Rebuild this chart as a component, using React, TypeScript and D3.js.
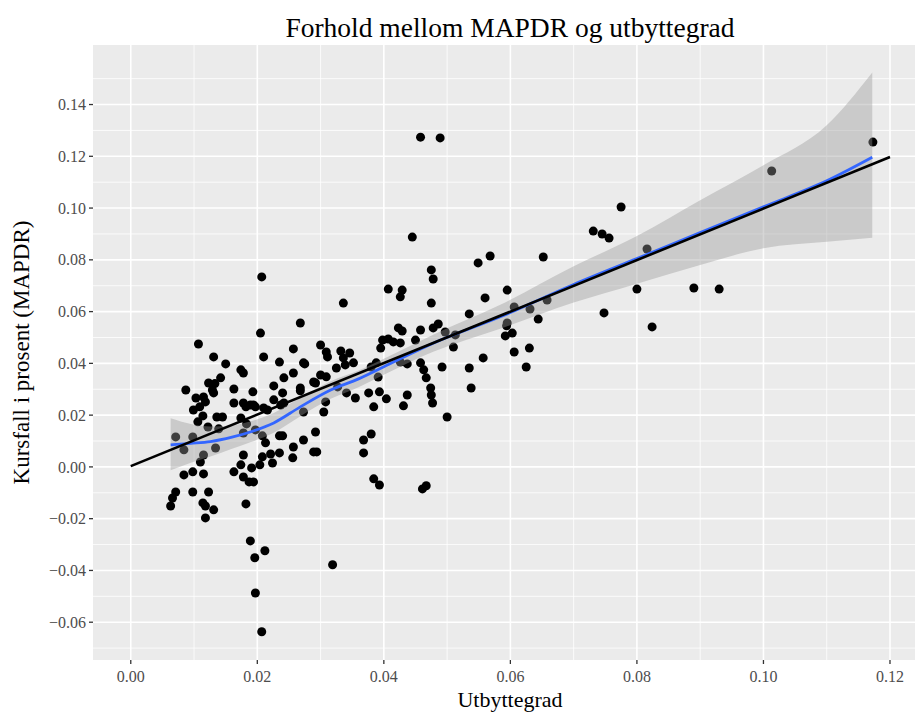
import React from "react";
import * as d3 from "d3";

const pointX = [
  0.0063, 0.0066, 0.0071, 0.0071, 0.0084, 0.0098, 0.0084, 0.0098, 0.0115, 0.0115,
  0.0110, 0.0087, 0.0107, 0.0131, 0.0150, 0.0142, 0.0123, 0.0133, 0.0129, 0.0131,
  0.0103, 0.0115, 0.0118, 0.0099, 0.0109, 0.0114, 0.0106, 0.0136, 0.0145, 0.0122,
  0.0139, 0.0163, 0.0163, 0.0182, 0.0189, 0.0197, 0.0193, 0.0174, 0.0178, 0.0134,
  0.0098, 0.0123, 0.0114, 0.0118, 0.0131, 0.0118, 0.0182, 0.0178, 0.0174, 0.0163,
  0.0178, 0.0187, 0.0194, 0.0191, 0.0204, 0.0174, 0.0183, 0.0178, 0.0197, 0.0208,
  0.0213, 0.0235, 0.0240, 0.0273, 0.0257, 0.0292, 0.0294, 0.0235, 0.0221, 0.0208,
  0.0224, 0.0256, 0.0189, 0.0212, 0.0196, 0.0319, 0.0197, 0.0207, 0.0207, 0.0205,
  0.0300, 0.0257, 0.0309, 0.0311, 0.0210, 0.0235, 0.0273, 0.0257, 0.0242, 0.0300,
  0.0309, 0.0226, 0.0240, 0.0268, 0.0292, 0.0178, 0.0194, 0.0210, 0.0226, 0.0237,
  0.0242, 0.0216, 0.0308, 0.0305, 0.0273, 0.0268, 0.0275, 0.0289, 0.0268, 0.0289,
  0.0325, 0.0332, 0.0346, 0.0336, 0.0339, 0.0352, 0.0355, 0.0341, 0.0327, 0.0336,
  0.0376, 0.0393, 0.0404, 0.0384, 0.0368, 0.0380, 0.0368, 0.0384, 0.0393, 0.0391,
  0.0380, 0.0388, 0.0395, 0.0398, 0.0407, 0.0415, 0.0426, 0.0423, 0.0429, 0.0437,
  0.0431, 0.0426, 0.0437, 0.0458, 0.0463, 0.0467, 0.0474, 0.0475, 0.0477, 0.0458,
  0.0478, 0.0486, 0.0497, 0.0450, 0.0510, 0.0513, 0.0492, 0.0500, 0.0461, 0.0467,
  0.0458, 0.0489, 0.0445, 0.0549, 0.0568, 0.0475, 0.0478, 0.0407, 0.0429, 0.0426,
  0.0475, 0.0595, 0.0560, 0.0535, 0.0557, 0.0535, 0.0538, 0.0652, 0.0606, 0.0631,
  0.0658, 0.0644, 0.0595, 0.0594, 0.0592, 0.0603, 0.0606, 0.0630, 0.0625, 0.0731,
  0.0745, 0.0756, 0.0775, 0.0816, 0.0800, 0.0890, 0.0930, 0.0748, 0.0824, 0.1013,
  0.1173,
];

const pointY = [
  -0.0151, -0.0120, -0.0097, 0.0116, 0.0066, 0.0116, -0.0031, -0.0019, -0.0027, 0.0046,
  0.0019, 0.0297, 0.0475, 0.0425, 0.0398, 0.0344, 0.0324, 0.0322, 0.0297, 0.0286,
  0.0266, 0.0270, 0.0251, 0.0220, 0.0232, 0.0197, 0.0174, 0.0193, 0.0193, 0.0154,
  0.0147, 0.0301, 0.0247, 0.0232, 0.0239, 0.0232, 0.0290, 0.0375, 0.0363, 0.0073,
  -0.0097, -0.0097, -0.0139, -0.0151, -0.0166, -0.0197, -0.0143, 0.0046, 0.0008, -0.0019,
  -0.0039, -0.0058, -0.0058, -0.0004, 0.0008, 0.0189, 0.0166, 0.0131, 0.0143, 0.0120,
  0.0093, 0.0120, 0.0120, 0.0104, 0.0077, 0.0135, 0.0058, 0.0054, 0.0050, 0.0039,
  0.0015, 0.0035, -0.0286, -0.0324, -0.0351, -0.0378, -0.0487, -0.0637, 0.0734, 0.0517,
  0.0471, 0.0456, 0.0444, 0.0425, 0.0425, 0.0405, 0.0402, 0.0363, 0.0344, 0.0355,
  0.0348, 0.0313, 0.0286, 0.0294, 0.0324, 0.0247, 0.0239, 0.0228, 0.0259, 0.0239,
  0.0247, 0.0220, 0.0251, 0.0212, 0.0212, 0.0556, 0.0398, 0.0328, 0.0305, 0.0058,
  0.0382, 0.0448, 0.0440, 0.0421, 0.0394, 0.0402, 0.0266, 0.0286, 0.0309, 0.0633,
  0.0286, 0.0290, 0.0263, 0.0232, 0.0104, 0.0127, 0.0054, -0.0046, -0.0070, 0.0347,
  0.0386, 0.0402, 0.0459, 0.0490, 0.0494, 0.0483, 0.0479, 0.0537, 0.0525, 0.0278,
  0.0236, 0.0405, 0.0398, 0.0402, 0.0375, 0.0344, 0.0305, 0.0278, 0.0247, 0.0529,
  0.0537, 0.0552, 0.0521, 0.0490, 0.0463, 0.0510, 0.0386, 0.0193, -0.0085, -0.0073,
  0.1274, 0.1271, 0.0888, 0.0788, 0.0815, 0.0761, 0.0726, 0.0687, 0.0683, 0.0657,
  0.0633, 0.0683, 0.0653, 0.0591, 0.0421, 0.0382, 0.0305, 0.0811, 0.0618, 0.0610,
  0.0645, 0.0571, 0.0556, 0.0545, 0.0506, 0.0517, 0.0444, 0.0459, 0.0386, 0.0911,
  0.0900, 0.0884, 0.1004, 0.0842, 0.0687, 0.0691, 0.0687, 0.0595, 0.0541, 0.1143,
  0.1255,
];

// loess smoother with confidence band
const smoothX = [0.0063, 0.0095, 0.0126, 0.016, 0.019, 0.0226, 0.0268, 0.0316, 0.036, 0.040, 0.0478, 0.0584, 0.070, 0.080, 0.090, 0.100, 0.110, 0.1172];
const smoothY = [0.0085, 0.0091, 0.0098, 0.0115, 0.0136, 0.0170, 0.0232, 0.0297, 0.0340, 0.0387, 0.0478, 0.0580, 0.0705, 0.0805, 0.0905, 0.1005, 0.1105, 0.1196];
const smoothLo = [-0.0013, 0.0016, 0.0040, 0.0070, 0.0096, 0.0132, 0.0196, 0.0263, 0.0308, 0.0356, 0.0445, 0.0534, 0.0635, 0.0708, 0.0780, 0.0845, 0.0870, 0.0885];
const smoothHi = [0.0188, 0.0166, 0.0156, 0.0160, 0.0176, 0.0208, 0.0268, 0.0331, 0.0372, 0.0418, 0.0511, 0.0626, 0.0775, 0.0892, 0.1030, 0.1165, 0.1320, 0.1524];

// straight reference line
const lineX = [0, 0.12];
const lineY = [0.0003, 0.1197];

const xTicks = [0, 0.02, 0.04, 0.06, 0.08, 0.1, 0.12];
const xMinor = [0.01, 0.03, 0.05, 0.07, 0.09, 0.11];
const yTicks = [-0.06, -0.04, -0.02, 0, 0.02, 0.04, 0.06, 0.08, 0.1, 0.12, 0.14];
const yMinor = [-0.07, -0.05, -0.03, -0.01, 0.01, 0.03, 0.05, 0.07, 0.09, 0.11, 0.13, 0.15];

const title = "Forhold mellom MAPDR og utbyttegrad";
const xTitle = "Utbyttegrad";
const yTitle = "Kursfall i prosent (MAPDR)";

const W = 915;
const H = 713;
const panel = { left: 93, right: 927, top: 45, bottom: 660 };

export default function App() {
  const x = d3.scaleLinear().domain([-0.00597, 0.12585]).range([panel.left, panel.right]);
  const y = d3.scaleLinear().domain([-0.0746, 0.1630]).range([panel.bottom, panel.top]);

  const band = d3
    .area<number>()
    .x((_, i) => x(smoothX[i]))
    .y0((_, i) => y(smoothLo[i]))
    .y1((_, i) => y(smoothHi[i]))
    .curve(d3.curveMonotoneX);
  const smoothLine = d3
    .line<number>()
    .x((_, i) => x(smoothX[i]))
    .y((_, i) => y(smoothY[i]))
    .curve(d3.curveMonotoneX);
  const refLine = d3
    .line<number>()
    .x((_, i) => x(lineX[i]))
    .y((_, i) => y(lineY[i]));

  const font = "'Liberation Serif', 'DejaVu Serif', serif";
  const tickFmt = d3.format(".2f");

  return (
    <svg width={W} height={H} style={{ position: "absolute", left: 0, top: 0, background: "#fff" }} fontFamily={font}>
      <defs>
        <clipPath id="pclip">
          <rect x={panel.left} y={panel.top} width={panel.right - panel.left} height={panel.bottom - panel.top} />
        </clipPath>
      </defs>
      <rect x={panel.left} y={panel.top} width={panel.right - panel.left} height={panel.bottom - panel.top} fill="#EBEBEB" />
      <g clipPath="url(#pclip)">
        {xMinor.map((v) => (
          <line key={"xm" + v} x1={x(v)} x2={x(v)} y1={panel.top} y2={panel.bottom} stroke="#fff" strokeWidth={0.8} />
        ))}
        {yMinor.map((v) => (
          <line key={"ym" + v} y1={y(v)} y2={y(v)} x1={panel.left} x2={panel.right} stroke="#fff" strokeWidth={0.8} />
        ))}
        {xTicks.map((v) => (
          <line key={"xg" + v} x1={x(v)} x2={x(v)} y1={panel.top} y2={panel.bottom} stroke="#fff" strokeWidth={1.6} />
        ))}
        {yTicks.map((v) => (
          <line key={"yg" + v} y1={y(v)} y2={y(v)} x1={panel.left} x2={panel.right} stroke="#fff" strokeWidth={1.6} />
        ))}
        {pointX.map((v, i) => (
          <circle key={"p" + i} cx={x(v)} cy={y(pointY[i])} r={4.5} fill="#000" />
        ))}
        <path d={band(smoothX) || ""} fill="#999999" fillOpacity={0.4} />
        <path d={smoothLine(smoothX) || ""} fill="none" stroke="#3366FF" strokeWidth={2.8} />
        <path d={refLine(lineX) || ""} fill="none" stroke="#000" strokeWidth={2.6} />
      </g>
      {xTicks.map((v) => (
        <g key={"xt" + v}>
          <line x1={x(v)} x2={x(v)} y1={panel.bottom} y2={panel.bottom + 4} stroke="#333" strokeWidth={1.3} />
          <text x={x(v)} y={panel.bottom + 22} textAnchor="middle" fontSize={16} fill="#4D4D4D">
            {tickFmt(v)}
          </text>
        </g>
      ))}
      {yTicks.map((v) => (
        <g key={"yt" + v}>
          <line x1={panel.left - 4} x2={panel.left} y1={y(v)} y2={y(v)} stroke="#333" strokeWidth={1.3} />
          <text x={panel.left - 7} y={y(v)} dy="0.35em" textAnchor="end" fontSize={16} fill="#4D4D4D">
            {tickFmt(v)}
          </text>
        </g>
      ))}
      <text x={510} y={37} textAnchor="middle" fontSize={27.5} fill="#000">
        {title}
      </text>
      <text x={510} y={707} textAnchor="middle" fontSize={22} fill="#000">
        {xTitle}
      </text>
      <text transform={`translate(29, ${(panel.top + panel.bottom) / 2}) rotate(-90)`} textAnchor="middle" fontSize={23} fill="#000">
        {yTitle}
      </text>
    </svg>
  );
}
